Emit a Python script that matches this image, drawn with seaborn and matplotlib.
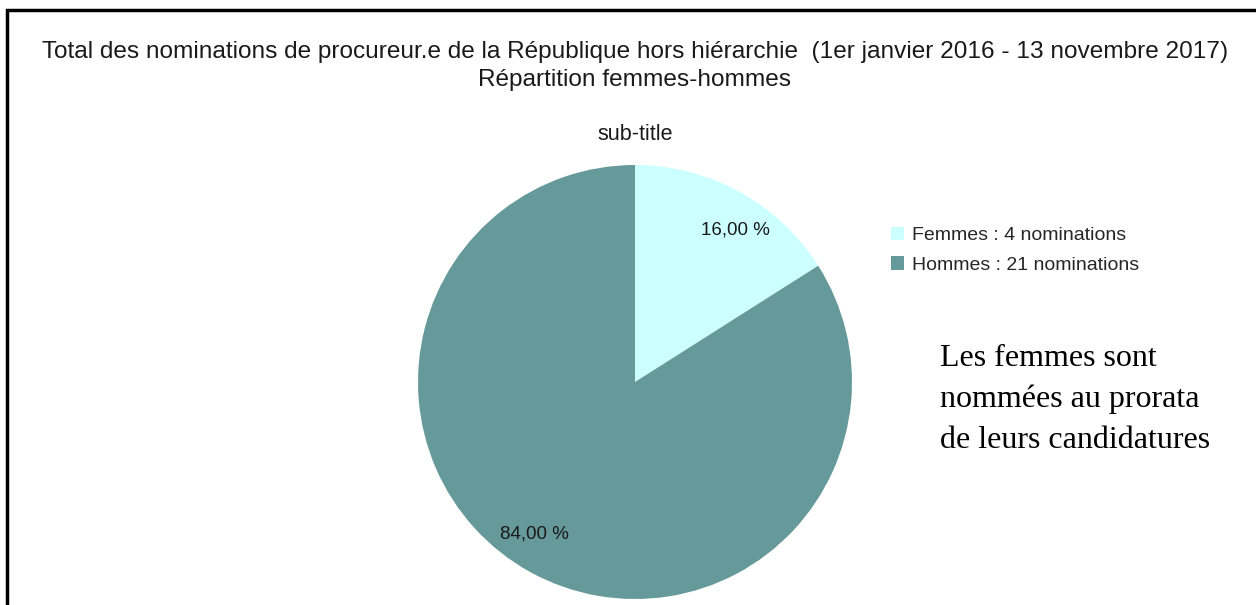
import matplotlib
matplotlib.use("Agg")
import matplotlib.pyplot as plt
from matplotlib.patches import Rectangle, Patch
import numpy as np
import seaborn as sns

# Données
categories = ["Femmes", "Hommes"]
nominations = [4, 21]
legend_labels = ["Femmes : 4 nominations", "Hommes : 21 nominations"]
couleurs = ["#CCFFFF", "#669999"]

sns.set_theme(style="white")
plt.rcParams["font.family"] = ["Liberation Sans", "DejaVu Sans"]

W, H = 1256, 605
fig = plt.figure(figsize=(W / 100, H / 100), dpi=100)

# Camembert : centre (635, 382), rayon 217 px
cx, cy, r = 635, 382, 217
ax = fig.add_axes([(cx - r) / W, (H - cy - r) / H, 2 * r / W, 2 * r / H])
wedges, _, autotexts = ax.pie(
    nominations,
    colors=couleurs,
    startangle=90,
    counterclock=False,
    autopct=lambda p: f"{p:.2f}".replace(".", ",") + " %",
    pctdistance=0.84,
    textprops={"fontsize": 13.5, "color": "#1a1a1a"},
    wedgeprops={"linewidth": 0},
)
# étiquettes légèrement décalées dans le sens horaire, comme l'original
for w, t in zip(wedges, autotexts):
    ang = np.deg2rad((w.theta1 + w.theta2) / 2 - 4.5)
    t.set_position((0.84 * np.cos(ang), 0.84 * np.sin(ang)))
ax.set_xlim(-1, 1)
ax.set_ylim(-1, 1)
ax.axis("off")

# Titres
fig.text(cx / W, 1 - 52 / H, "Total des nominations de procureur.e de la République hors hiérarchie  (1er janvier 2016 - 13 novembre 2017)",
         ha="center", va="center", fontsize=17.6, color="#1a1a1a")
fig.text(cx / W, 1 - 80 / H, "Répartition femmes-hommes",
         ha="center", va="center", fontsize=17.6, color="#1a1a1a")
fig.text(cx / W, 1 - 134 / H, "sub-title",
         ha="center", va="center", fontsize=15.5, color="#1a1a1a")

# Légende
handles = [Patch(facecolor=c, edgecolor="none") for c in couleurs]
fig.legend(handles, legend_labels, loc="upper left",
           bbox_to_anchor=(883 / W, 1 - 219 / H), frameon=False,
           fontsize=14, handlelength=0.7, handleheight=0.7,
           handletextpad=0.4, labelspacing=0.62, borderaxespad=0)

# Commentaire
fig.text(940 / W, 1 - 344 / H, "Les femmes sont\nnommées au prorata\nde leurs candidatures",
         ha="left", va="top", fontsize=23, linespacing=1.53,
         family=["Liberation Serif", "DejaVu Serif"], color="black")

# Cadre
fig.patches.append(Rectangle((6.5 / W, -0.1), 1.2, 1 - 10 / H + 0.1,
                             transform=fig.transFigure, fill=False,
                             linewidth=2.5, edgecolor="black"))

fig.savefig("out.png", dpi=100)
